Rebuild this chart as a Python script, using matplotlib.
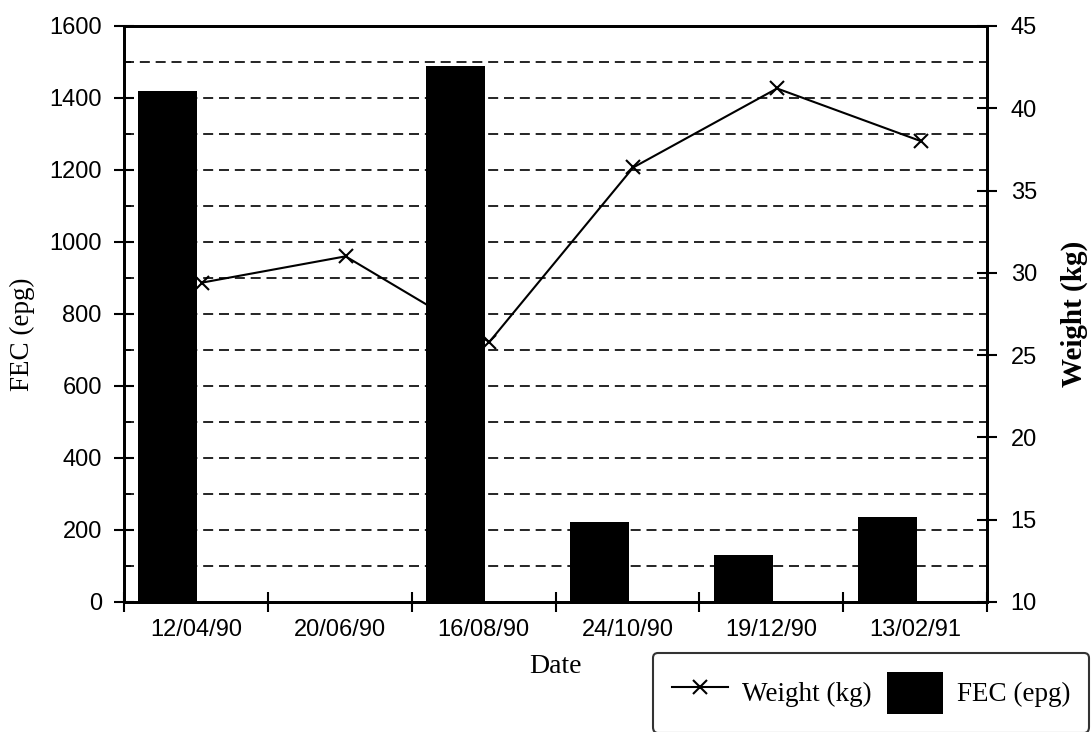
import matplotlib
matplotlib.use('Agg')
import matplotlib.pyplot as plt
from matplotlib.ticker import MultipleLocator, FixedLocator, NullFormatter
import numpy as np

# values
dates = ['12/04/90', '20/06/90', '16/08/90', '24/10/90', '19/12/90', '13/02/91']
fec = [1420, 0, 1490, 222, 130, 235]
weight = [29.4, 31.0, 25.8, 36.4, 41.2, 38.0]

SERIF = 'Liberation Serif'
SANS = 'Liberation Sans'
DPI = 100

fig = plt.figure(figsize=(10.91, 7.32), dpi=DPI)
ax = fig.add_axes([0.1137, 0.1776, 0.791, 0.787])
ax2 = ax.twinx()

x = np.arange(len(dates))

# bars sit a bit left of the category centre, line just right of it
bars = ax.bar(x - 0.195, fec, width=0.41, color='black', label='FEC (epg)', zorder=3)
line, = ax2.plot(x + 0.04, weight, color='black', lw=1.5, marker='x',
                 markersize=10, mew=1.5, label='Weight (kg)')

# bars have to cover the line, so the left axes goes on top
ax.set_zorder(ax2.get_zorder() + 1)
ax.patch.set_visible(False)

ax.set_xlim(-0.5, len(dates) - 0.5)
ax.set_ylim(0, 1600)
ax2.set_ylim(10, 45)

# x ticks at the category boundaries, labels at the centres
ax.xaxis.set_major_locator(FixedLocator(np.arange(-0.5, len(dates), 1.0)))
ax.xaxis.set_major_formatter(NullFormatter())
ax.xaxis.set_minor_locator(FixedLocator(x))
ax.set_xticklabels(dates, minor=True)
ax.tick_params(axis='x', which='major', direction='inout', length=14, width=1.5)
ax.tick_params(axis='x', which='minor', length=0, pad=12)

ax.yaxis.set_major_locator(MultipleLocator(200))
ax.yaxis.set_minor_locator(MultipleLocator(100))
ax.tick_params(axis='y', which='major', direction='inout', length=14, width=1.5, pad=9)
ax.tick_params(axis='y', which='minor', direction='in', length=5, width=1.2)

ax2.yaxis.set_major_locator(MultipleLocator(5))
ax2.tick_params(axis='y', which='major', direction='inout', length=14, width=1.5, pad=10)

for lab in ax.get_xticklabels(minor=True) + ax.get_yticklabels() + ax2.get_yticklabels():
    lab.set_fontfamily(SANS)
    lab.set_fontsize(17)

ax.grid(True, axis='y', which='both', color='black', lw=1.2, linestyle=(0, (6, 3.5)))
ax.set_axisbelow(True)

for a in (ax, ax2):
    for sp in a.spines.values():
        sp.set_linewidth(2)

ax.set_xlabel('Date', fontfamily=SERIF, fontsize=20, labelpad=9.5)
ax.set_ylabel('FEC (epg)', fontfamily=SERIF, fontsize=19.5, labelpad=10)
ax.yaxis.label.set_y(0.464)
ax2.set_ylabel('Weight (kg)', fontfamily=SERIF, fontsize=21, fontweight='bold', labelpad=17)

leg = fig.legend([line, bars], ['Weight (kg)', 'FEC (epg)'], loc='upper left',
                 bbox_to_anchor=(0.5985, 0.108), ncol=2, frameon=True, fancybox=True,
                 prop={'family': SERIF, 'size': 19.5}, handlelength=2.07, handleheight=2.0,
                 columnspacing=0.6, handletextpad=0.5, borderpad=0.7, borderaxespad=0)
leg.get_frame().set_edgecolor('black')
leg.get_frame().set_linewidth(1.5)

fig.savefig('out.png', dpi=DPI)
